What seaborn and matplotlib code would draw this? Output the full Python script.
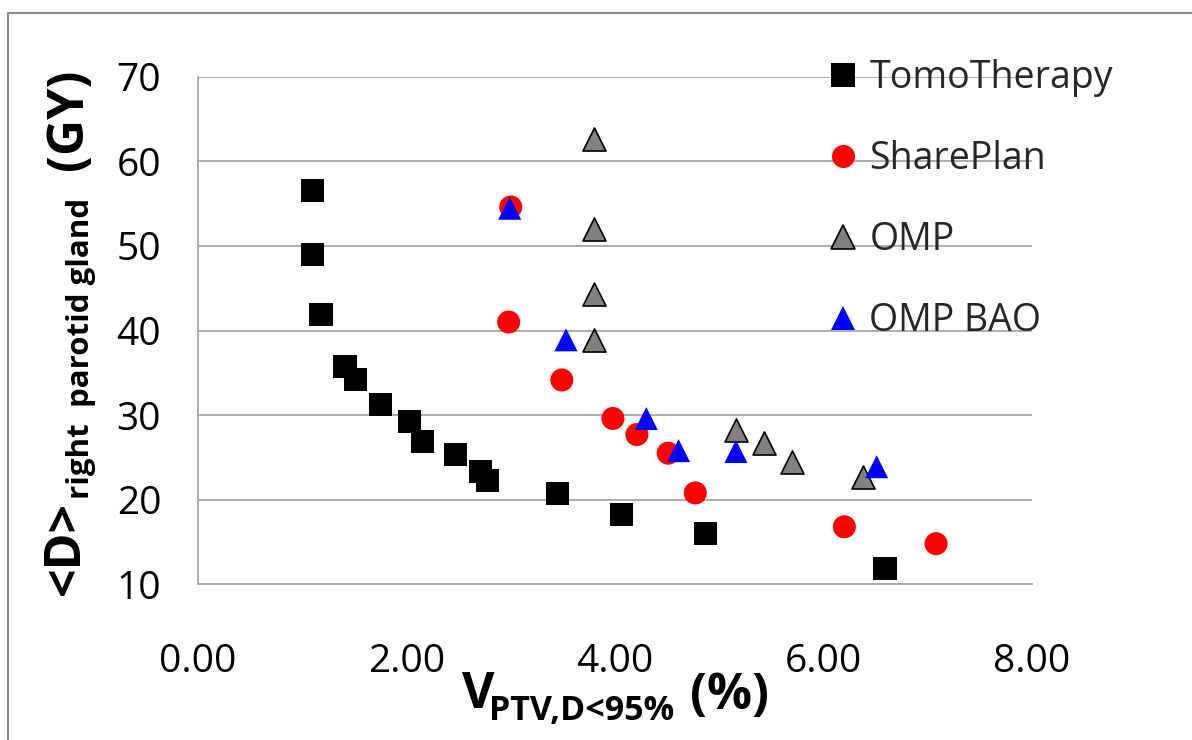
import matplotlib
matplotlib.use("Agg")
import matplotlib.pyplot as plt
from matplotlib.lines import Line2D
import seaborn as sns
import pandas as pd

# ---- data -------------------------------------------------------------
tomo_x = [1.10, 1.10, 1.18, 1.41, 1.51, 1.75, 2.03, 2.15, 2.47, 2.71, 2.78, 3.45, 4.06, 4.87, 6.59]
tomo_y = [56.5, 49.0, 41.9, 35.7, 34.2, 31.2, 29.3, 26.9, 25.3, 23.3, 22.3, 20.7, 18.2, 16.05, 11.9]

share_x = [3.00, 2.98, 3.49, 3.98, 4.21, 4.51, 4.77, 6.20, 7.08]
share_y = [54.6, 41.0, 34.15, 29.6, 27.7, 25.5, 20.8, 16.8, 14.8]

omp_x = [3.80, 3.80, 3.80, 3.80, 5.16, 5.43, 5.70, 6.38]
omp_y = [62.6, 51.95, 44.3, 38.9, 28.2, 26.7, 24.5, 22.7]

bao_x = [2.99, 3.53, 4.30, 4.61, 5.16, 6.51]
bao_y = [54.45, 38.9, 29.6, 25.8, 25.7, 23.9]

x_ticks = [0, 2, 4, 6, 8]
x_tick_labels = ["0.00", "2.00", "4.00", "6.00", "8.00"]
y_ticks = [10, 20, 30, 40, 50, 60, 70]

series = [
    ("TomoTherapy", tomo_x, tomo_y, "s", "#000000", "none"),
    ("SharePlan", share_x, share_y, "o", "#ff0000", "none"),
    ("OMP", omp_x, omp_y, "^", "#808080", "#000000"),
    ("OMP BAO", bao_x, bao_y, "^", "#0000ff", "none"),
]

# ---- style ------------------------------------------------------------
sns.set_theme(style="white")
plt.rcParams["font.family"] = ["Open Sans", "DejaVu Sans"]

W, H = 1192, 740
fig = plt.figure(figsize=(W / 100, H / 100), dpi=100)
ax = fig.add_axes([198 / W, 1 - 584.3 / H, (1032 - 198) / W, (584.3 - 76.7) / H])

for name, xs, ys, mk, fc, ec in series:
    df = pd.DataFrame({"x": xs, "y": ys})
    sns.scatterplot(data=df, x="x", y="y", ax=ax, marker=mk, color=fc,
                    edgecolor=ec, linewidth=1.2 if ec != "none" else 0,
                    s=275, zorder=3, label=name, legend=False)

ax.set_xlim(0, 8)
ax.set_ylim(10, 70)
ax.set_xticks(x_ticks)
ax.set_xticklabels(x_tick_labels)
ax.set_yticks(y_ticks)
ax.set_xlabel("")
ax.set_ylabel("")

grid_c = "#a6a6a6"
ax.yaxis.grid(True, color=grid_c, linewidth=1.3)
ax.xaxis.grid(False)
ax.set_axisbelow(True)
for side in ("top", "right"):
    ax.spines[side].set_visible(False)
for side in ("left", "bottom"):
    ax.spines[side].set_color(grid_c)
    ax.spines[side].set_linewidth(1.3)

ax.tick_params(axis="both", which="major", labelsize=28, colors="#000000",
               direction="out", length=11.5, width=1.3)
ax.tick_params(axis="x", color=grid_c, pad=31)
ax.tick_params(axis="y", color=grid_c, pad=15)

# ---- legend -----------------------------------------------------------
handles = []
for name, xs, ys, mk, fc, ec in series:
    handles.append(Line2D([], [], linestyle="none", marker=mk, markersize=16.6,
                          markerfacecolor=fc,
                          markeredgecolor=ec if ec != "none" else fc,
                          markeredgewidth=1.2 if ec != "none" else 0,
                          label=name))
fig.legend(handles=handles, loc="upper left",
           bbox_to_anchor=(828 / W, 1 - 59 / H), frameon=False,
           fontsize=27, labelspacing=1.15, handlelength=0.8,
           handletextpad=0.3, borderpad=0, borderaxespad=0)

# ---- axis titles built from pieces -------------------------------------
def px(x, y):
    return x / W, 1 - y / H

bold = dict(fontweight="bold", color="#000000", ha="left", va="baseline",
            rotation_mode="anchor")

# x title: V_{PTV,D<95%} (%)
fig.text(*px(462, 708), "V", fontsize=36, **bold)
fig.text(*px(489, 720), "PTV,D<95%", fontsize=24.5, **bold)
fig.text(*px(690, 709), "(%)", fontsize=36, **bold)

# y title: <D>_{right parotid gland} (GY)
fig.text(*px(79, 595), "<D>", fontsize=36, rotation=90, **bold)
fig.text(*px(89, 499), "right  parotid gland", fontsize=22.5, rotation=90, **bold)
fig.text(*px(82, 170), "(GY)", fontsize=36, rotation=90, **bold)

# chart frame
frame_c = "#8c8c8c"
fig.add_artist(Line2D([8 / W, 8 / W], [0, 1 - 12.5 / H], transform=fig.transFigure,
                      color=frame_c, linewidth=1.5))
fig.add_artist(Line2D([8 / W, 1], [1 - 12.5 / H, 1 - 12.5 / H], transform=fig.transFigure,
                      color=frame_c, linewidth=1.5))

fig.savefig("out.png", dpi=100, facecolor="white")
